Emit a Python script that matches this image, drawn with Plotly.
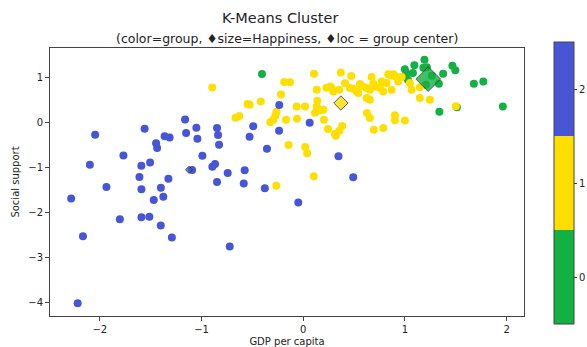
import plotly.graph_objects as go

# ---------------- data ----------------
group_labels = [0, 1, 2]

green_gdp = [-0.406, 1.191, 1.092, 0.999, 1.014, 1.078, 1.181, 1.215, 1.466, 1.495,
             1.375, 1.333, 1.677, 1.770, 1.338, 1.962, 1.510, 1.029, 1.264, 1.205]
green_social = [1.087, 1.406, 1.283, 1.194, 1.105, 1.109, 1.228, 1.239, 1.272, 1.172,
                1.094, 0.871, 0.871, 0.922, 0.246, 0.364, 0.346, 0.960, 1.049, 0.848]

yellow_gdp = [-0.895, -0.188, -0.131, -0.219, -0.548, -0.527, -0.418, -0.263, -0.275, -0.295,
              -0.324, -0.666, -0.630, -0.170, -0.145, -0.265, -0.065, 0.017, -0.062, 0.019,
              0.038, 0.103, 0.105, 0.368, 0.471, 0.672, 0.835, 0.860, 0.886, 0.908,
              0.967, 0.410, 0.557, 0.583, 0.688, 0.704, 0.770, 0.819, 0.933, 1.048,
              0.279, 0.295, 0.459, 0.525, 0.623, 0.655, 0.753, 0.786, 0.868, 1.065,
              1.146, 1.146, 1.245, 0.623, 0.655, 0.133, 0.228, 0.138, 0.115, 0.164,
              0.198, 0.132, 0.203, 0.243, 0.311, 0.354, 0.383, 0.540, 0.626, 0.655,
              0.694, 0.786, 0.901, 0.901, 0.999, 1.500, 0.267, 0.354, 0.321, 0.491]
yellow_social = [0.788, 0.908, 0.904, 0.629, 0.417, 0.402, 0.473, 0.246, 0.163, 0.067,
                 0.011, 0.112, 0.150, 0.067, -0.498, -1.406, 0.362, 0.362, 0.089, -0.542,
                 -0.681, -1.194, 1.094, 1.123, 1.042, 1.022, 1.083, 1.056, 1.083, 1.033,
                 1.020, 0.882, 0.864, 0.810, 0.871, 0.810, 0.922, 0.886, 0.922, 0.886,
                 0.775, 0.699, 0.775, 0.699, 0.775, 0.737, 0.775, 0.699, 0.737, 0.737,
                 0.790, 0.551, 0.513, 0.551, 0.513, 0.737, 0.781, 0.491, 0.223, 0.279,
                 0.290, 0.364, 0.067, -0.141, -0.250, -0.179, -0.074, 0.663, 0.217, 0.105,
                 -0.156, -0.118, 0.167, 0.056, 0.051, 0.368, 0.808, 0.737, -0.290, 0.759]

blue_gdp = [-2.046, -1.560, -1.162, -1.051, -0.848, -1.363, -1.314, -1.152, -1.041, -0.838,
            -1.447, -1.437, -0.828, -1.768, -2.098, -1.592, -1.506, -0.992, -0.894, -0.867,
            -1.093, -1.611, -1.326, -0.848, -1.935, -1.591, -1.400, -2.282, -1.470, -1.376,
            -1.803, -1.591, -1.513, -1.401, -2.166, -1.292, -0.723, -0.585, -0.378, -0.743,
            -0.576, -0.492, -0.528, -0.238, -0.236, -0.357, 0.063, 0.346, 0.491, -0.049,
            -2.218]
blue_social = [-0.268, -0.134, 0.074, -0.112, -0.118, -0.301, -0.328, -0.230, -0.357, -0.275,
               -0.458, -0.565, -0.491, -0.730, -0.938, -0.960, -0.886, -0.737, -0.982, -0.922,
               -1.054, -1.212, -1.250, -1.324, -1.433, -1.484, -1.451, -1.690, -1.723, -1.652,
               -2.150, -2.105, -2.098, -2.292, -2.529, -2.560, -2.761, -1.355, -1.462, -1.123,
               -1.060, -0.078, -0.313, -0.179, 0.397, -0.580, 0.000, -0.748, -1.217, -1.780,
               -4.025]

center_gdp = [1.228, 0.370, -1.123]
center_social = [0.975, 0.440, -1.049]

# ---------------- style ----------------
FONT = "DejaVu Sans"
colors = {0: "#13b043", 1: "#ffdf00", 2: "#4656d6"}
colorscale = [
    [0.0, colors[0]], [1 / 3, colors[0]],
    [1 / 3, colors[1]], [2 / 3, colors[1]],
    [2 / 3, colors[2]], [1.0, colors[2]],
]
center_sizes = {0: 19, 1: 11, 2: 5.5}

series = [
    (0, green_gdp, green_social),
    (1, yellow_gdp, yellow_social),
    (2, blue_gdp, blue_social),
]

fig = go.Figure()
for g, xs, ys in series:
    fig.add_trace(go.Scatter(
        x=xs, y=ys, mode="markers", showlegend=False,
        marker=dict(
            size=8, color=[g] * len(xs), colorscale=colorscale,
            cmin=-0.5, cmax=2.5, line=dict(width=0),
            showscale=(g == 0),
            colorbar=dict(
                x=1.064, xanchor="left", xpad=0, ypad=0,
                y=0.496, yanchor="middle", len=1.052, lenmode="fraction",
                thickness=20, thicknessmode="pixels",
                outlinecolor="#444", outlinewidth=1,
                tickvals=group_labels, ticktext=[str(v) for v in group_labels],
                ticks="outside", ticklen=3, tickcolor="#333",
                tickfont=dict(family=FONT, size=10, color="#222"),
            ),
        ),
    ))

for i, g in enumerate(group_labels):
    fig.add_trace(go.Scatter(
        x=[center_gdp[i]], y=[center_social[i]], mode="markers", showlegend=False,
        marker=dict(symbol="diamond", size=center_sizes[g], color=colors[g],
                    opacity=0.8, line=dict(color="#333", width=1)),
    ))

axis_common = dict(
    showgrid=False, zeroline=False, showline=True, mirror=True, automargin=False,
    linecolor="#444", linewidth=1, ticks="outside", ticklen=4, tickcolor="#444",
    tickfont=dict(family=FONT, size=10, color="#222"),
)

fig.update_layout(
    width=587, height=347,
    margin=dict(l=50, r=63, t=48, b=31, autoexpand=False),
    paper_bgcolor="white", plot_bgcolor="white",
    font=dict(family=FONT, color="#222"),
    xaxis=dict(range=[-2.49, 2.17], tickvals=[-2, -1, 0, 1, 2],
               title=dict(text="GDP per capita", font=dict(family=FONT, size=10), standoff=4),
               **axis_common),
    yaxis=dict(range=[-4.31, 1.667], tickvals=[-4, -3, -2, -1, 0, 1],
               title=dict(text="Social support", font=dict(family=FONT, size=10), standoff=6),
               **axis_common),
    annotations=[
        dict(text="K-Means Cluster", xref="paper", yref="paper", x=0.485, y=1.0,
             yshift=30, xanchor="center", yanchor="middle", showarrow=False,
             font=dict(family=FONT, size=14.5, color="#222")),
        dict(text="(color=group, \u2666size=Happiness, \u2666loc = group center)",
             xref="paper", yref="paper", x=0.5, y=1.0, yshift=10,
             xanchor="center", yanchor="middle", showarrow=False,
             font=dict(family=FONT, size=12.5, color="#222")),
    ],
)

fig.write_html("out.html")
